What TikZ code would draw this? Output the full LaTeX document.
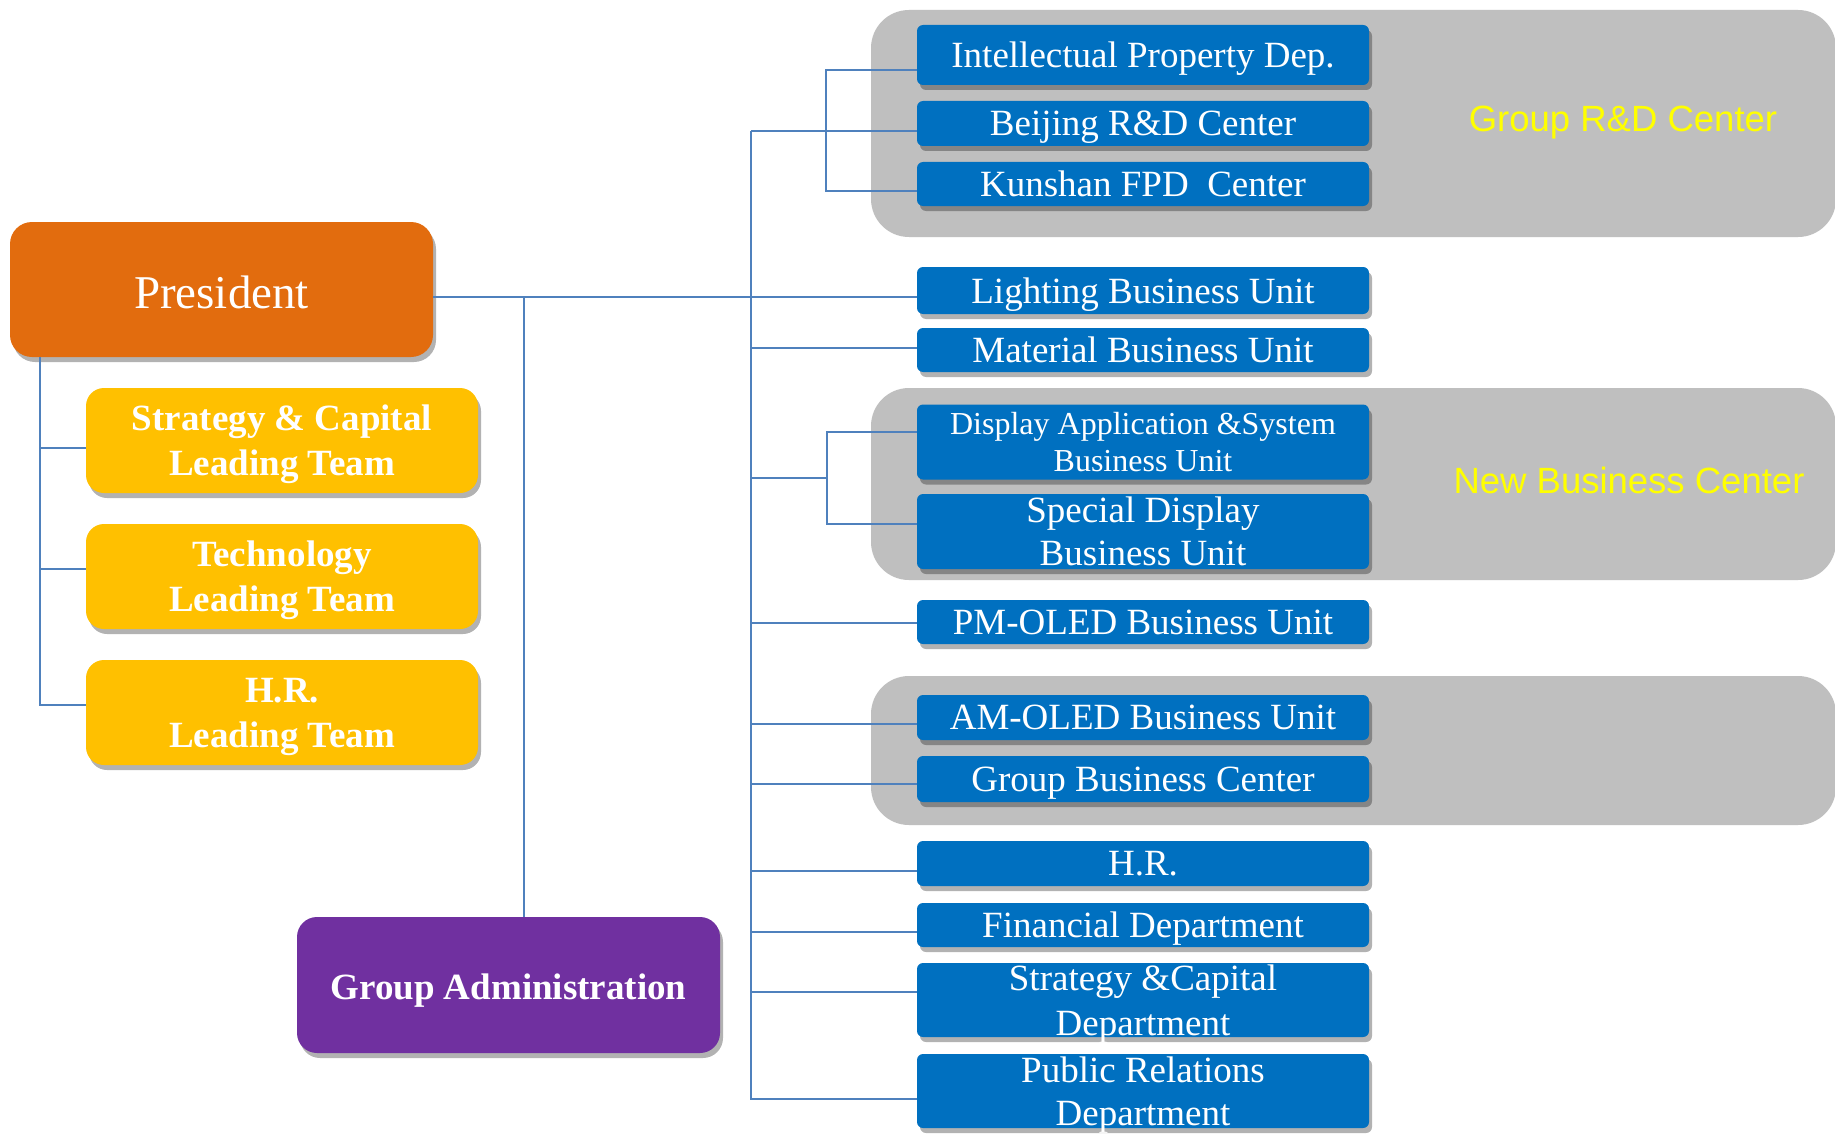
\documentclass[tikz,border=0pt]{standalone}
\usepackage{fontspec}
\setmainfont{Liberation Serif}
\newfontfamily\arialf{Liberation Sans}
\usetikzlibrary{shadows}
\definecolor{presorange}{RGB}{226,108,14}
\definecolor{ldyellow}{RGB}{255,192,0}
\definecolor{gapurple}{RGB}{112,48,160}
\definecolor{unitblue}{RGB}{0,112,192}
\definecolor{grpgray}{RGB}{191,191,191}
\definecolor{connblue}{RGB}{79,129,189}
\definecolor{lblyellow}{RGB}{255,255,0}
\newcommand{\fsz}[2]{\fontsize{#1pt}{#2pt}\selectfont}
\begin{document}
\begin{tikzpicture}[x=1pt,y=-1pt,
  shd/.style={drop shadow={shadow xshift=3pt,shadow yshift=-5pt,opacity=0.3,fill=black}},
  unit/.style={fill=unitblue, rounded corners=6pt, minimum width=452pt, text=white, inner sep=0pt, align=center, text depth=0pt, font=\fsz{37}{45}, shd},
  lead/.style={fill=ldyellow, rounded corners=18pt, minimum width=392pt, minimum height=105pt, text=white, inner sep=0pt, align=center, text depth=0pt, font=\bfseries\fsz{37}{45}, shd},
  grp/.style={fill=grpgray, rounded corners=38pt, minimum width=965pt, inner sep=0pt},
  grplbl/.style={text=lblyellow, font=\arialf\fsz{36.5}{43}, inner sep=0pt, anchor=base},
  conn/.style={draw=connblue, line width=2.4pt}
]
\fill[white] (0,0) rectangle (1835,1134);
\useasboundingbox (0,0) rectangle (1835,1134);

% group backgrounds
\node[grp, minimum height=227pt] (grd) at (1353.5,123.5) {};
\node[grp, minimum height=192pt] (gnb) at (1353.5,484) {};
\node[grp, minimum height=149pt] (gam) at (1353.5,750.5) {};
\node[grplbl] (grdl) at (1623,132) {Group R\&D Center};
\node[grplbl] (gnbl) at (1629,493) {New Business Center};

% main boxes
\node[fill=presorange, rounded corners=22pt, minimum width=423pt, minimum height=135pt, inner sep=0pt, text height=37pt, text depth=0pt, text=white, font=\fsz{47}{56}, shd] (pres) at (221.5,289.5) {President};
\node[fill=gapurple, rounded corners=20pt, minimum width=423pt, minimum height=136pt, inner sep=0pt, text height=28pt, text depth=0pt, text=white, font=\bfseries\fsz{37}{45}, shd] (ga) at (508.5,985) {Group Administration};

\node[lead] (y1) at (282,440.5) {Strategy \& Capital\\Leading Team};
\node[lead] (y2) at (282,576.5) {Technology\\Leading Team};
\node[lead] (y3) at (282,712.5) {H.R.\\Leading Team};

% units
\node[unit, minimum height=60pt] (ip) at (1143,55) {Intellectual Property Dep.};
\node[unit, minimum height=45pt] (bj) at (1143,123.5) {Beijing R\&D Center};
\node[unit, minimum height=44pt] (ks) at (1143,184) {Kunshan FPD\ \ Center};
\node[unit, minimum height=47pt] (lit) at (1143,290.5) {Lighting Business Unit};
\node[unit, minimum height=44pt] (mat) at (1143,350) {Material Business Unit};
\node[unit, minimum height=75pt, font=\fsz{32}{37}] (dap) at (1143,442) {Display Application \&System\\Business Unit};
\node[unit, minimum height=75pt, font=\fsz{37}{43}] (spd) at (1143,531.5) {Special Display\\Business Unit};
\node[unit, minimum height=44pt] (pmo) at (1143,622) {PM-OLED Business Unit};
\node[unit, minimum height=45pt] (amo) at (1143,717.5) {AM-OLED Business Unit};
\node[unit, minimum height=46pt] (gbc) at (1143,779) {Group Business Center};
\node[unit, minimum height=45pt] (hr) at (1143,863.5) {H.R.};
\node[unit, minimum height=44pt] (fin) at (1143,925) {Financial Department};
\node[unit, minimum height=74pt] (stc) at (1143,1000) {Strategy \&Capital\\Department};
\node[unit, minimum height=74pt, font=\fsz{37}{43}] (pr) at (1143,1091) {Public Relations\\Department};

% connector coordinates
\coordinate (jp) at (751,297);
\coordinate (jg) at (524,297);
\coordinate (ttop) at (751,131);
\coordinate (tbot) at (751,1099);
\coordinate (bmat) at (751,348);
\coordinate (bnb) at (751,478);
\coordinate (bpm) at (751,623);
\coordinate (bam) at (751,724);
\coordinate (bgb) at (751,784);
\coordinate (bhr) at (751,871);
\coordinate (bfin) at (751,932);
\coordinate (bstc) at (751,992);
\coordinate (srd) at (826,131);
\coordinate (sip) at (826,70);
\coordinate (sks) at (826,191);
\coordinate (snb) at (827,478);
\coordinate (sdap) at (827,432);
\coordinate (sspd) at (827,524);
\coordinate (l1) at (40,448);
\coordinate (l2) at (40,569);
\coordinate (l3) at (40,705);

% connectors
\draw[conn] ([yshift=-7.5pt]pres.east) -- (jp -| lit.west);
\draw[conn] (jg) -- (jg |- ga.north);
\draw[conn] (ttop) -- (tbot) -- (tbot -| pr.west);
\draw[conn] (bmat) -- (bmat -| mat.west);
\draw[conn] (bpm) -- (bpm -| pmo.west);
\draw[conn] (bam) -- (bam -| amo.west);
\draw[conn] (bgb) -- (bgb -| gbc.west);
\draw[conn] (bhr) -- (bhr -| hr.west);
\draw[conn] (bfin) -- (bfin -| fin.west);
\draw[conn] (bstc) -- (bstc -| stc.west);
\draw[conn] (ttop) -- (srd);
\draw[conn] (sip -| ip.west) -- (sip) -- (sks) -- (sks -| ks.west);
\draw[conn] (srd) -- (srd -| bj.west);
\draw[conn] (bnb) -- (snb);
\draw[conn] (sdap -| dap.west) -- (sdap) -- (sspd) -- (sspd -| spd.west);
\draw[conn] (pres.south -| l3) -- (l3) -- (l3 -| y3.west);
\draw[conn] (l1) -- (l1 -| y1.west);
\draw[conn] (l2) -- (l2 -| y2.west);
\end{tikzpicture}
\end{document}
